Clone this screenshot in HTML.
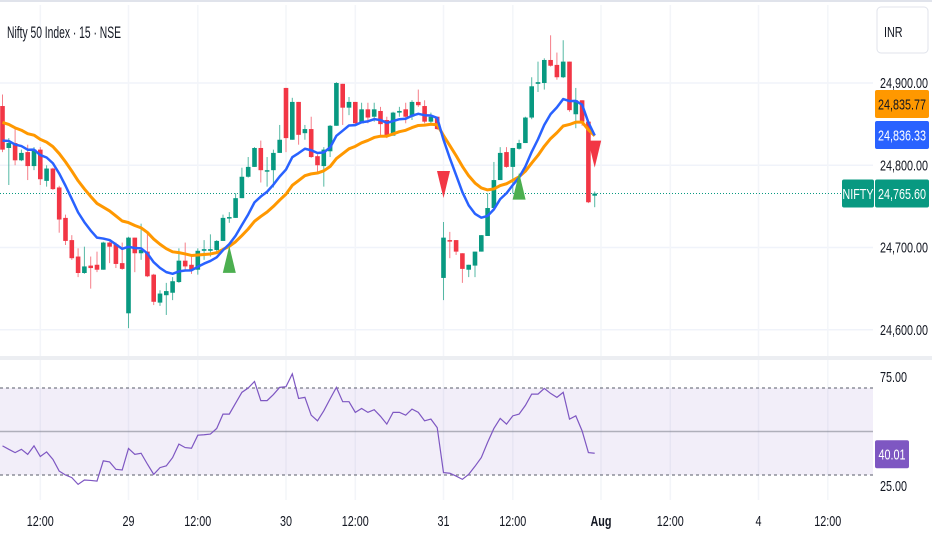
<!DOCTYPE html>
<html><head><meta charset="utf-8">
<style>
html,body{margin:0;padding:0;background:#fff;}
svg{display:block;font-family:"Liberation Sans",sans-serif;}
</style></head>
<body>
<svg id="chart" width="932" height="550" viewBox="0 0 932 550" xmlns="http://www.w3.org/2000/svg">
<rect x="0" y="0" width="932" height="550" fill="#ffffff"/>
<line x1="0" y1="1" x2="932" y2="1" stroke="#e0e3eb" stroke-width="2"/>
<g id="grid"></g>
<g id="rsiPane"></g>
<g id="candles"></g>
<g id="emas"></g>
<g id="signals"></g>
<g id="axes"></g>
<text id="title" x="7" y="38" font-size="17" fill="#131722">Nifty 50 Index · 15 · NSE</text>
<g>
<rect x="877" y="7" width="51" height="46" rx="4" fill="#fff" stroke="#e0e3eb"/>
<text class="cond" x="884" y="37" font-size="15" fill="#131722">INR</text>
</g>
</svg>
<script>
const opens  =[24872,24821,24827,24806,24816,24799,24819,24781,24796,24773,24736,24709,24689,24669,24678,24679,24673,24706,24704,24681,24620,24712,24693,24695,24667,24633,24642,24645,24658,24684,24679,24673,24696,24696,24697,24708,24736,24736,24760,24786,24798,24821,24793,24794,24815,24894,24831,24877,24839,24844,24811,24799,24817,24848,24899,24870,24877,24851,24868,24859,24866,24855,24836,24864,24868,24859,24877,24872,24853,24859,24663,24709,24709,24693,24673,24678,24695,24714,24748,24782,24816,24798,24820,24827,24858,24899,24900,24928,24922,24907,24926,24862,24879,24853,24763];
const highs  =[24886,24833,24845,24819,24825,24822,24822,24800,24797,24775,24740,24715,24699,24701,24689,24695,24707,24707,24706,24706,24713,24712,24729,24719,24668,24648,24657,24664,24699,24706,24689,24699,24709,24716,24709,24740,24743,24766,24797,24810,24822,24830,24810,24819,24849,24894,24882,24877,24849,24859,24813,24822,24849,24901,24899,24883,24877,24876,24876,24876,24871,24859,24865,24871,24876,24879,24892,24879,24864,24859,24731,24719,24709,24693,24679,24695,24715,24766,24804,24822,24822,24821,24831,24859,24907,24926,24930,24958,24937,24952,24926,24894,24879,24853,24768];
const lows   =[24816,24776,24800,24805,24782,24794,24776,24774,24770,24718,24703,24685,24664,24668,24650,24670,24673,24681,24675,24673,24602,24670,24685,24664,24630,24629,24618,24636,24657,24673,24668,24667,24685,24689,24695,24708,24730,24736,24760,24785,24798,24779,24774,24773,24815,24816,24831,24825,24831,24809,24791,24774,24810,24848,24849,24861,24849,24851,24851,24853,24834,24833,24836,24859,24851,24855,24871,24851,24851,24843,24636,24687,24691,24657,24664,24664,24695,24714,24748,24782,24797,24766,24819,24827,24856,24889,24892,24920,24904,24906,24865,24845,24848,24754,24749];
const closes =[24819,24827,24806,24815,24799,24819,24783,24796,24771,24734,24708,24687,24669,24677,24675,24673,24706,24701,24680,24674,24712,24693,24697,24665,24634,24644,24647,24659,24684,24677,24673,24696,24698,24698,24708,24736,24737,24760,24786,24798,24821,24794,24794,24815,24831,24833,24877,24837,24844,24810,24800,24819,24848,24900,24870,24877,24851,24868,24858,24868,24850,24836,24864,24866,24859,24877,24873,24853,24859,24844,24712,24708,24695,24674,24679,24695,24715,24748,24782,24815,24798,24821,24827,24858,24896,24901,24928,24921,24907,24926,24867,24879,24853,24755,24765.6];
const rsiValues=[43.4,41.8,40.3,41.8,39.5,43.4,38.5,40.6,37.2,31.8,30,28.8,25.7,27.7,27.5,27.2,36.5,36,32.6,32.3,42.2,39.5,40,35,30.3,33.4,34.2,38,44.2,42.6,42.3,48.3,48.5,48.8,51.4,58,58,63,68,70,73,64.2,64.2,67,70.3,70.6,76.5,65.2,65.7,57.5,54.9,59.5,65,70.3,63.7,63.7,58.8,60.6,58.8,60,57,53.4,58.8,58.8,57.5,60.3,58.8,54.9,55.7,51.8,31.1,30.8,29.5,28,30.3,34,38,45,51.4,56,53.4,57.2,58,62,67.2,67.2,69.8,67.5,65.7,68,55.7,57.2,50.3,40.3,40.01];
const priceTicks=[24900,24800,24700,24600];
const rsiTicks=[75,25];
const timeLabels=["12:00","29","12:00","30","12:00","31","12:00","Aug","12:00","4","12:00"];
const timeLabelIdx=[6,20,31,45,56,70,81,95,106,120,131];
const signalIdx=[36,70,82,94];
const signalType=["up","down","up","down"];
const emaFastPeriod=10, emaSlowPeriod=20;
const emaFastSeed=24830, emaSlowSeed=24852;

const NS="http://www.w3.org/2000/svg";
const plotRight=873;
const xOf=i=>2.5+i*6.3;
const yP=p=>83+(24900-p)*0.8225;
const yR=v=>431.5-(v-50)*2.175;
function mk(tag,attrs,parent){const e=document.createElementNS(NS,tag);for(const k in attrs)e.setAttribute(k,attrs[k]);parent.appendChild(e);return e;}
const fmt=v=>v.toLocaleString('en-US',{minimumFractionDigits:2,maximumFractionDigits:2});

const grid=document.getElementById('grid');
priceTicks.forEach(p=>{const l=mk('line',{x1:0,x2:plotRight,y1:yP(p),y2:yP(p),stroke:'#f0f3fa','stroke-width':1.5},grid);

});
timeLabelIdx.forEach(i=>{const l=mk('line',{x1:xOf(i),x2:xOf(i),y1:5,y2:500,stroke:'#f3f5f9','stroke-width':1.5},grid);

});
const sep=mk('rect',{x:0,y:356,width:932,height:4,fill:'#eceef2'},grid);



const rp=document.getElementById('rsiPane');
const band=mk('rect',{x:0,y:yR(70),width:plotRight,height:yR(30)-yR(70),fill:'rgba(126,87,194,0.1)'},rp);


[70,30].forEach(v=>{const l=mk('line',{x1:0,x2:plotRight,y1:yR(v),y2:yR(v),stroke:'#787b86','stroke-width':1.2,'stroke-dasharray':'3 3'},rp);

});
const mid=mk('line',{x1:0,x2:plotRight,y1:yR(50),y2:yR(50),stroke:'rgba(120,123,134,0.55)','stroke-width':1.5},rp);


const rsiLine=mk('polyline',{points:rsiValues.map((v,i)=>xOf(i)+','+yR(v)).join(' '),fill:'none',stroke:'#7e57c2','stroke-width':1.2},rp);



const cg=document.getElementById('candles');
const lastLine=mk('line',{x1:0,x2:842,y1:yP(closes[closes.length-1]),y2:yP(closes[closes.length-1]),stroke:'#089981','stroke-width':1,'stroke-dasharray':'1 2'},cg);


opens.forEach((o,i)=>{
  const c=closes[i],up=c>=o,col=up?'#089981':'#f23645',x=xOf(i);
  const g=mk('g',{},cg);
  
  
  mk('line',{x1:x,x2:x,y1:yP(highs[i]),y2:yP(lows[i]),stroke:up?'#55b8a4':'#f57e88','stroke-width':1},g);
  const t=Math.min(yP(o),yP(c)),h=Math.max(1.5,Math.abs(yP(o)-yP(c)));
  mk('rect',{x:x-2.3,y:t,width:4.6,height:h,fill:col},g);
});

function ema(period,seed){const a=2/(period+1);let e=seed;return closes.map((c,i)=>{if(i>0)e=e+a*(c-e);return e;});}
const fast=ema(emaFastPeriod,emaFastSeed),slow=ema(emaSlowPeriod,emaSlowSeed);
const eg=document.getElementById('emas');
const so=mk('polyline',{points:slow.map((v,i)=>xOf(i)+','+yP(v)).join(' '),fill:'none',stroke:'#ff9800','stroke-width':3,'stroke-linejoin':'round'},eg);


const fa=mk('polyline',{points:fast.map((v,i)=>xOf(i)+','+yP(v)).join(' '),fill:'none',stroke:'#2962ff','stroke-width':2.5,'stroke-linejoin':'round'},eg);



const sg=document.getElementById('signals');
signalIdx.forEach((i,k)=>{
  const x=xOf(i);let pts,col;
  if(signalType[k]==='up'){const t=yP(lows[i])+23;pts=`${x},${t} ${x-6.5},${t+27} ${x+6.5},${t+27}`;col='#4caf50';}
  else{const b=yP(highs[i])-24;pts=`${x},${b} ${x-6.5},${b-27} ${x+6.5},${b-27}`;col='#f23645';}
  const p=mk('polygon',{points:pts,fill:col},sg);
  
  
});

const ax=document.getElementById('axes');
priceTicks.forEach(p=>{const t=mk('text',{x:928,y:yP(p)+5,'font-size':15,fill:'#131722','text-anchor':'end','class':'cond'},ax);t.textContent=fmt(p);

});
rsiTicks.forEach(v=>{const t=mk('text',{x:880,y:yR(v)+5,'font-size':15,fill:'#131722','class':'cond'},ax);t.textContent=fmt(v);

});
timeLabels.forEach((s,k)=>{const t=mk('text',{x:xOf(timeLabelIdx[k]),y:526,'font-size':15,fill:'#131722','text-anchor':'middle','font-weight':s==='Aug'?'bold':'normal','class':'cond'},ax);t.textContent=s;

});
function tag(y,bg,fg,txt,name,x,w){const g=mk('g',{},ax);


mk('rect',{x:x,y:y-14,width:w,height:28,rx:2,fill:bg},g);
const t=mk('text',{x:x+w/2,y:y+5.5,'font-size':15,fill:fg,'text-anchor':'middle','class':'cond'},g);t.textContent=txt;}
const lastSlow=slow[slow.length-1],lastFast=fast[fast.length-1];
tag(104,'#ff9800','#131722',fmt(lastSlow),'ema-slow-price-tag',875,54);
tag(135,'#2962ff','#ffffff',fmt(lastFast),'ema-fast-price-tag',875,54);
const lc=closes[closes.length-1];
tag(yP(lc),'#089981','#ffffff','NIFTY','symbol-tag',842,32);
tag(yP(lc),'#089981','#ffffff',fmt(lc),'last-price-tag',875,54);
tag(yR(rsiValues[rsiValues.length-1])+1,'#7e57c2','#ffffff',fmt(rsiValues[rsiValues.length-1]),'rsi-value-tag',875,34);

document.querySelectorAll('text.cond').forEach(t=>{const w=t.getComputedTextLength();t.setAttribute('textLength',(w*0.72).toFixed(1));t.setAttribute('lengthAdjust','spacingAndGlyphs');});
const ti=document.getElementById('title');ti.setAttribute('textLength','114');ti.setAttribute('lengthAdjust','spacingAndGlyphs');
</script>
</body></html>
